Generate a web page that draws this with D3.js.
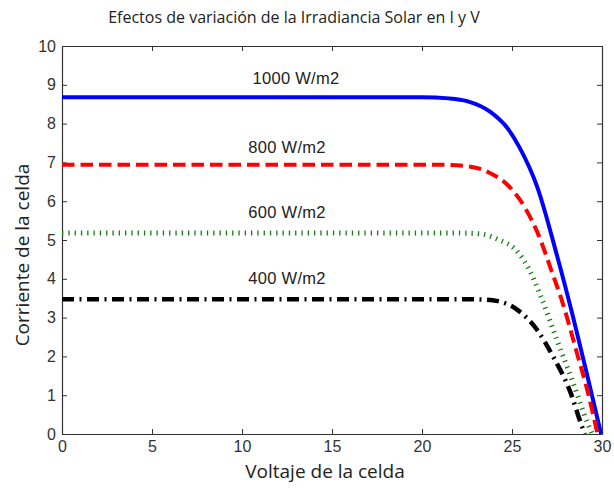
<!DOCTYPE html>
<html>
<head>
<meta charset="utf-8">
<script src="https://cdn.jsdelivr.net/npm/d3@7"></script>
<style>
  html, body { margin: 0; padding: 0; background: #fff; }
  svg { display: block; }
</style>
</head>
<body>
<svg id="chart" width="614" height="488"></svg>
<script>
// I-V curves of a solar cell for four irradiance levels
const xTicks = [0, 5, 10, 15, 20, 25, 30];
const yTicks = [0, 1, 2, 3, 4, 5, 6, 7, 8, 9, 10];

const curveLabels = ["1000 W/m2", "800 W/m2", "600 W/m2", "400 W/m2"];

// voltage (V) / current (A) samples for each irradiance
const v1000 = [0, 20, 21.5, 22.5, 23.8, 24.8, 25.4, 26.4, 27.5, 28.4, 29.2, 29.95];
const i1000 = [8.68, 8.68, 8.65, 8.58, 8.3, 7.85, 7.4, 6.37, 4.6, 3.0, 1.47, 0];

const v800 = [0, 21, 22.7, 23.8, 24.9, 25.7, 26.5, 27.2, 27.8, 28.6, 29.2, 29.75];
const i800 = [6.94, 6.94, 6.89, 6.72, 6.35, 5.85, 5.1, 4.2, 3.4, 2.1, 1.1, 0];

const v600 = [0, 22, 23.2, 24.3, 25.2, 26.0, 26.6, 27.5, 28.4, 29.2, 29.45];
const i600 = [5.18, 5.18, 5.16, 5.0, 4.75, 4.2, 3.55, 2.42, 1.31, 0.28, 0];

const v400 = [0, 23, 24, 25.3, 26.4, 27.3, 28.2, 28.9, 29.05];
const i400 = [3.47, 3.47, 3.44, 3.2, 2.68, 1.98, 1.13, 0.18, 0];

const series = [
  { v: v1000, i: i1000, color: "#0000ff", width: 4, dash: null },
  { v: v800,  i: i800,  color: "#ff0000", width: 4, dash: "12.5,6" },
  { v: v600,  i: i600,  color: "#1a7a1a", width: 5, dash: "1.3,5" },
  { v: v400,  i: i400,  color: "#000000", width: 4.5, dash: "12,5.5,2,5.5" }
];

// label anchor positions in data units
const labelV = [13, 12.5, 12.5, 12.5];
const labelI = [9.02, 7.24, 5.57, 3.87];

const margin = { left: 62, right: 12, top: 46, bottom: 54 };
const W = 614, H = 488;
const svg = d3.select("#chart");

const x = d3.scaleLinear().domain([0, 30]).range([margin.left, W - margin.right]);
const y = d3.scaleLinear().domain([0, 10]).range([H - margin.bottom, margin.top]);

const axisColor = "#333";
const tickFont = "'Liberation Sans', Arial, sans-serif";

// axes with inward ticks on all four sides
const gx = svg.append("g").attr("transform", `translate(0,${y(0)})`)
  .call(d3.axisBottom(x).tickValues(xTicks).tickSizeInner(-5).tickSizeOuter(0).tickPadding(7));
const gxTop = svg.append("g").attr("transform", `translate(0,${y(10)})`)
  .call(d3.axisTop(x).tickValues(xTicks).tickSizeInner(-5).tickSizeOuter(0).tickFormat(""));
const gy = svg.append("g").attr("transform", `translate(${x(0)},0)`)
  .call(d3.axisLeft(y).tickValues(yTicks).tickSizeInner(-5).tickSizeOuter(0).tickPadding(6));
const gyRight = svg.append("g").attr("transform", `translate(${x(30)},0)`)
  .call(d3.axisRight(y).tickValues(yTicks).tickSizeInner(-5).tickSizeOuter(0).tickFormat(""));

[gx, gxTop, gy, gyRight].forEach(g => {
  g.selectAll("path").attr("stroke", axisColor).attr("stroke-width", 1.2);
  g.selectAll("line").attr("stroke", axisColor).attr("stroke-width", 1);
  g.selectAll("text").attr("fill", "#333").style("font-family", tickFont).style("font-size", "16px");
});

// curves
const line = d3.line().curve(d3.curveMonotoneX);
series.forEach(s => {
  const pts = s.v.map((v, k) => [x(v), y(s.i[k])]);
  const p = svg.append("path")
    .attr("d", line(pts))
    .attr("fill", "none")
    .attr("stroke", s.color)
    .attr("stroke-width", s.width);
  if (s.dash) p.attr("stroke-dasharray", s.dash);
});

// curve labels
curveLabels.forEach((t, k) => {
  svg.append("text")
    .attr("x", x(labelV[k]))
    .attr("y", y(labelI[k]))
    .attr("text-anchor", "middle")
    .attr("fill", "#222")
    .style("font-family", tickFont)
    .style("font-size", "16.5px")
    .style("letter-spacing", "0.3px")
    .text(t);
});

// titles
const titleFont = "'Open Sans', sans-serif";
svg.append("text")
  .attr("x", 294).attr("y", 23)
  .attr("text-anchor", "middle")
  .attr("fill", "#222")
  .style("font-family", titleFont).style("font-size", "16px")
  .text("Efectos de variación de la Irradiancia Solar en I y V");

svg.append("text")
  .attr("x", 325).attr("y", 478)
  .attr("text-anchor", "middle")
  .attr("fill", "#222")
  .style("font-family", titleFont).style("font-size", "19px")
  .text("Voltaje de la celda");

svg.append("text")
  .attr("transform", `translate(29,255) rotate(-90)`)
  .attr("text-anchor", "middle")
  .attr("fill", "#222")
  .style("font-family", titleFont).style("font-size", "19px")
  .text("Corriente de la celda");
</script>
</body>
</html>
